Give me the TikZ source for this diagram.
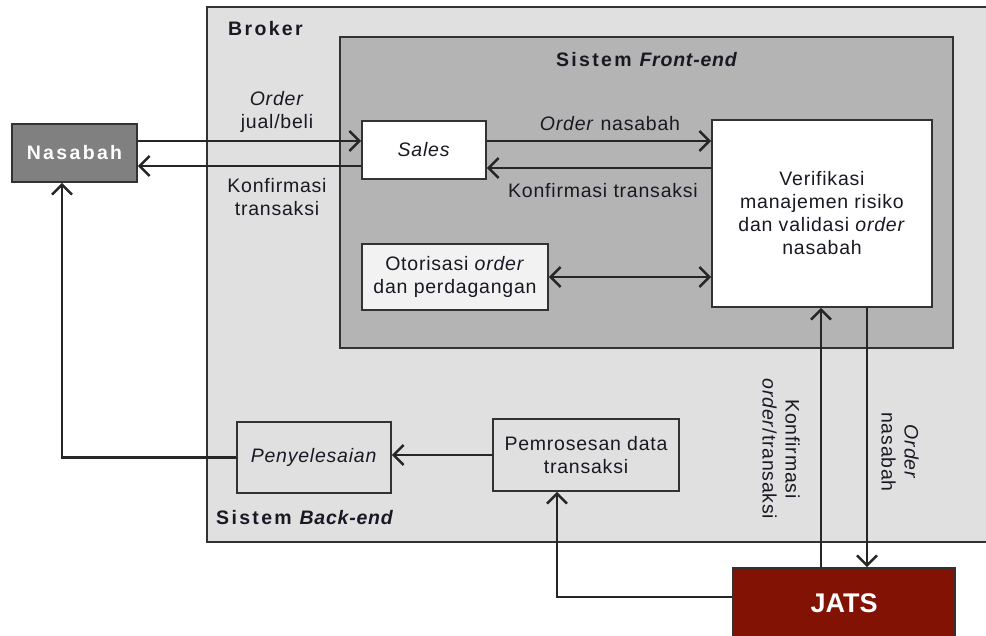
\documentclass[tikz,border=0pt]{standalone}
\usepackage{fontspec}
\setmainfont{Liberation Sans}[LetterSpace=4, BoldFeatures={LetterSpace=12}]
\newfontfamily\jatsfont{Liberation Sans}
\usetikzlibrary{arrows.meta,calc}
\definecolor{brokerbg}{RGB}{224,224,224}
\definecolor{frontbg}{RGB}{180,180,180}
\definecolor{nasabahbg}{RGB}{128,128,128}
\definecolor{jatsbg}{RGB}{130,18,4}
\definecolor{boxline}{RGB}{50,50,50}
\definecolor{txt}{RGB}{25,25,35}
\tikzset{
  every node/.style={font=\fontsize{19.5}{23}\selectfont, text=txt, inner sep=0pt},
  area/.style={draw=boxline, line width=1.8pt},
  pbox/.style={draw=boxline, line width=1.8pt, align=center},
  arr/.style={draw=black!85, line width=2.4pt, -{Straight Barb[length=10pt,width=20pt]}},
  darr/.style={draw=black!85, line width=2.4pt, {Straight Barb[length=10pt,width=20pt]}-{Straight Barb[length=10pt,width=20pt]}},
  lab/.style={align=center},
  boldlab/.style={font=\fontsize{19.5}{23}\selectfont\bfseries},
}
\begin{document}
\begin{tikzpicture}[x=1pt,y=-1pt]
\useasboundingbox (0,0) rectangle (986,636);
\fill[white] (0,0) rectangle (986,636);
% areas
\draw[area, fill=brokerbg] (207,7) rectangle (992,542);
\draw[area, fill=frontbg] (340,37) rectangle (953,348);
\node[anchor=west, boldlab] (broker) at (228,29) {Broker};
\node[boldlab] (front) at (647,60) {Sistem \textit{Front-end}};
\node[anchor=west, boldlab] (back) at (216,518) {Sistem \textit{Back-end}};
% boxes
\node[pbox, fill=nasabahbg, minimum width=125pt, minimum height=58pt, text=white, boldlab] (nasabah) at (74.5,153) {Nasabah};
\node[pbox, fill=white, minimum width=124pt, minimum height=58pt] (sales) at (424,150) {\textit{Sales}};
\node[pbox, fill=white, minimum width=220pt, minimum height=187pt] (verif) at (822,213.5) {Verifikasi\\manajemen risiko\\dan validasi \textit{order}\\nasabah};
\node[pbox, fill=white!95!black, minimum width=186pt, minimum height=66pt] (otor) at (455,277) {Otorisasi \textit{order}\\dan perdagangan};
\node[pbox, fill=brokerbg, minimum width=154pt, minimum height=71pt] (peny) at (314,457.5) {\textit{Penyelesaian}};
\node[pbox, fill=brokerbg, minimum width=186pt, minimum height=72pt] (pemr) at (586,455) {Pemrosesan data\\transaksi};
\node[pbox, fill=jatsbg, minimum width=222pt, minimum height=70pt, text=white, font=\fontsize{27}{30}\selectfont\jatsfont\bfseries] (jats) at (844,603) {JATS};
% connectors
\draw[arr] ($(nasabah.east)+(0,-12)$) -- ($(sales.west)+(0,-9)$);
\draw[arr] ($(sales.west)+(0,16)$) -- ($(nasabah.east)+(0,13)$);
\draw[arr] ($(sales.east)+(0,-9)$) -- ($(verif.west)+(0,-72.5)$);
\draw[arr] ($(verif.west)+(0,-45.5)$) -- ($(sales.east)+(0,18)$);
\draw[darr] (otor.east) -- (otor.east -| verif.west);
\draw[arr] (pemr.west) -- (pemr.west -| peny.east);
\draw[arr] (peny.west) -| ($(nasabah.south)+(-12.5,0)$);
\draw[arr] ($(jats.west)+(0,-6)$) -| ($(pemr.south)+(-29,0)$);
\draw[arr] ($(jats.north)+(-23,0)$) -- ($(verif.south)+(-1,0)$);
\draw[arr] ($(verif.south)+(45,0)$) -- ($(jats.north)+(23,0)$);
% labels
\node[lab] (l1) at (277,112) {\textit{Order}\\jual/beli};
\node[lab] (l2) at (277,197) {Konfirmasi\\transaksi};
\node[lab] (l3) at (610,124) {\textit{Order} nasabah};
\node[lab] (l4) at (603,191) {Konfirmasi transaksi};
\node[lab, rotate=-90] (l5) at (781,449) {Konfirmasi\\\textit{order}/transaksi};
\node[lab, rotate=-90] (l6) at (900,452) {\textit{Order}\\nasabah};
\end{tikzpicture}
\end{document}
